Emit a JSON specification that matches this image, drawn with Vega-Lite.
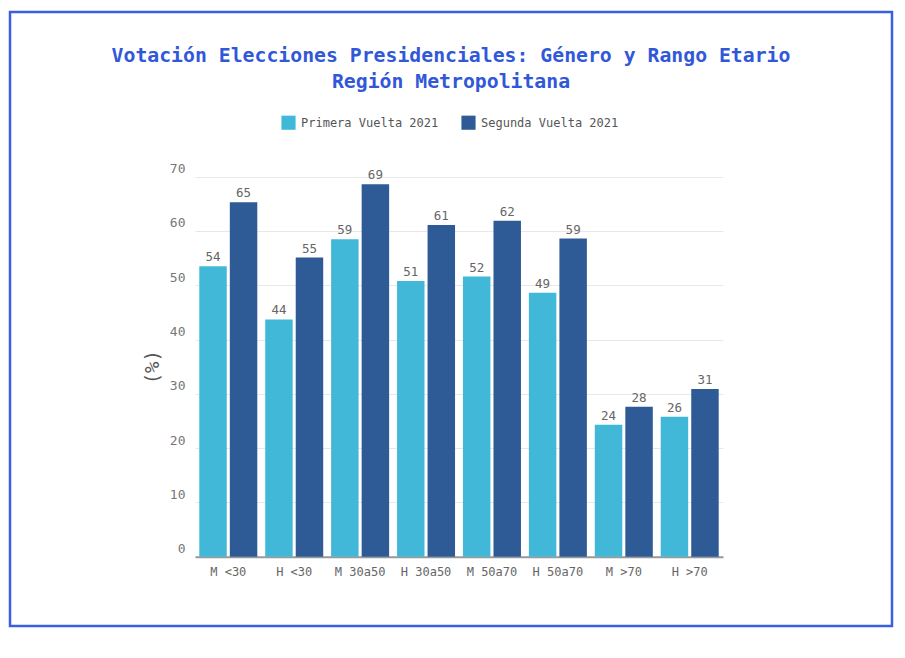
{
  "$schema": "https://vega.github.io/schema/vega-lite/v6.json",
  "width": 882,
  "height": 614,
  "autosize": {"type": "none"},
  "padding": {"left": 10, "top": 12, "right": 13, "bottom": 32},
  "background": "white",
  "title": {
    "text": ["Votación Elecciones Presidenciales: Género y Rango Etario", "Región Metropolitana"],
    "anchor": "middle",
    "frame": "group",
    "font": "DejaVu Sans Mono",
    "fontSize": 19.8,
    "fontWeight": "bold",
    "color": "#3158d8",
    "lineHeight": 26,
    "offset": -80
  },
  "config": {
    "view": {"stroke": "#3a5fe0", "strokeWidth": 2.5},
    "font": "DejaVu Sans Mono",
    "axis": {"labelFont": "DejaVu Sans Mono", "titleFont": "DejaVu Sans Mono"}
  },
  "data": {
    "values": [
      {"grupo": "M <30", "vuelta": "Primera Vuelta 2021", "pct": 53.5},
      {"grupo": "M <30", "vuelta": "Segunda Vuelta 2021", "pct": 65.3},
      {"grupo": "H <30", "vuelta": "Primera Vuelta 2021", "pct": 43.7},
      {"grupo": "H <30", "vuelta": "Segunda Vuelta 2021", "pct": 55.1},
      {"grupo": "M 30a50", "vuelta": "Primera Vuelta 2021", "pct": 58.5},
      {"grupo": "M 30a50", "vuelta": "Segunda Vuelta 2021", "pct": 68.6},
      {"grupo": "H 30a50", "vuelta": "Primera Vuelta 2021", "pct": 50.8},
      {"grupo": "H 30a50", "vuelta": "Segunda Vuelta 2021", "pct": 61.1},
      {"grupo": "M 50a70", "vuelta": "Primera Vuelta 2021", "pct": 51.6},
      {"grupo": "M 50a70", "vuelta": "Segunda Vuelta 2021", "pct": 61.9},
      {"grupo": "H 50a70", "vuelta": "Primera Vuelta 2021", "pct": 48.6},
      {"grupo": "H 50a70", "vuelta": "Segunda Vuelta 2021", "pct": 58.6},
      {"grupo": "M >70", "vuelta": "Primera Vuelta 2021", "pct": 24.3},
      {"grupo": "M >70", "vuelta": "Segunda Vuelta 2021", "pct": 27.6},
      {"grupo": "H >70", "vuelta": "Primera Vuelta 2021", "pct": 25.8},
      {"grupo": "H >70", "vuelta": "Segunda Vuelta 2021", "pct": 30.9}
    ]
  },
  "encoding": {
    "x": {
      "field": "grupo",
      "type": "nominal",
      "sort": null,
      "scale": {"range": [185, 713], "paddingInner": 0.12, "paddingOuter": 0.065},
      "axis": {
        "title": null,
        "labelAngle": 0,
        "labelColor": "#666666",
        "labelFontSize": 12,
        "labelPadding": 10,
        "ticks": false,
        "domainColor": "#999999",
        "domainWidth": 2,
        "offset": -69.3
      }
    },
    "xOffset": {
      "field": "vuelta",
      "type": "nominal",
      "sort": ["Primera Vuelta 2021", "Segunda Vuelta 2021"],
      "scale": {"paddingInner": 0.1}
    },
    "y": {
      "field": "pct",
      "type": "quantitative",
      "scale": {"domain": [0, 70], "range": [544.7, 164.7], "nice": false},
      "axis": {
        "title": "(%)",
        "titleColor": "#555555",
        "titleFontSize": 19,
        "titleFontWeight": "normal",
        "titlePadding": 7,
        "values": [0, 10, 20, 30, 40, 50, 60, 70],
        "labelColor": "#777777",
        "labelFontSize": 13,
        "labelPadding": 10,
        "labelBaseline": "bottom",
        "labelOffset": -1,
        "ticks": false,
        "domain": false,
        "gridColor": "#e8e8e8",
        "gridWidth": 1,
        "offset": -185
      }
    }
  },
  "layer": [
    {
      "mark": {"type": "bar"},
      "encoding": {
        "color": {
          "field": "vuelta",
          "type": "nominal",
          "scale": {
            "domain": ["Primera Vuelta 2021", "Segunda Vuelta 2021"],
            "range": ["#42b8d9", "#2e5b96"]
          },
          "legend": {
            "title": null,
            "orient": "none",
            "direction": "horizontal",
            "legendX": 271,
            "legendY": 103,
            "symbolType": "square",
            "symbolSize": 200,
            "symbolStrokeWidth": 0,
            "symbolOpacity": 1,
            "labelFont": "DejaVu Sans Mono",
            "labelFontSize": 12,
            "labelColor": "#555555",
            "labelOffset": 5,
            "columnPadding": 22
          }
        }
      }
    },
    {
      "mark": {"type": "text", "dy": -9, "fontSize": 12.5, "color": "#666666", "font": "DejaVu Sans Mono"},
      "encoding": {
        "text": {"field": "pct", "type": "quantitative", "format": ".0f"}
      }
    }
  ]
}
